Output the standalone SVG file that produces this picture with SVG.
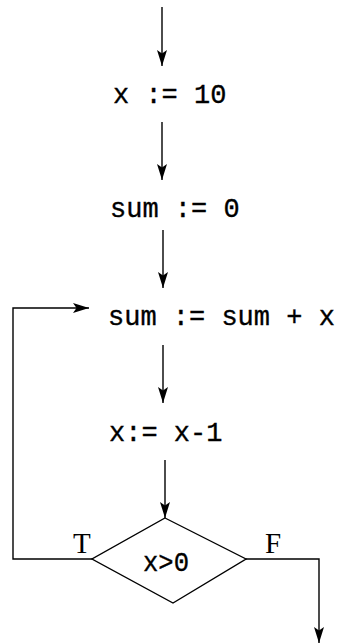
<svg xmlns="http://www.w3.org/2000/svg" width="341" height="643" viewBox="0 0 341 643">
<defs>
<style>
.code{font-family:"Liberation Mono","DejaVu Sans Mono",monospace;font-size:27px;fill:#000;stroke:#000;stroke-width:0.35}
.lbl{font-family:"Liberation Serif","DejaVu Serif",serif;font-size:29px;fill:#000}
.ln{stroke:#000;stroke-width:1.4;fill:none}
</style>
<marker id="ah" markerUnits="userSpaceOnUse" markerWidth="17" markerHeight="12" refX="16" refY="6" orient="auto">
<path d="M16,6 L0,1 L3.5,6 L0,11 Z" fill="#000"/>
</marker>
</defs>
<rect width="341" height="643" fill="#fff"/>
<g id="connectors">
<line class="ln" x1="162" y1="7" x2="162" y2="66" marker-end="url(#ah)"/>
<line class="ln" x1="162" y1="122" x2="162" y2="180" marker-end="url(#ah)"/>
<line class="ln" x1="163" y1="230" x2="163" y2="288" marker-end="url(#ah)"/>
<line class="ln" x1="163" y1="345" x2="163" y2="403" marker-end="url(#ah)"/>
<line class="ln" x1="165" y1="460" x2="165" y2="518" marker-end="url(#ah)"/>
<polyline class="ln" points="92,559 13,559 13,308 89,308" marker-end="url(#ah)"/>
<polyline class="ln" points="246,559 319,559 319,643" marker-end="url(#ah)"/>
<text class="lbl" x="73" y="553">T</text>
<text class="lbl" x="265" y="553">F</text>
</g>
<g id="n1"><text class="code" x="113" y="103">x := 10</text></g>
<g id="n2"><text class="code" x="110" y="217">sum := 0</text></g>
<g id="n3"><text class="code" x="108" y="325">sum := sum + x</text></g>
<g id="n4"><text class="code" x="109" y="441">x:= x-1</text></g>
<g id="n5">
<polygon class="ln" points="165,518 246,559 173,603 92,559"/>
<text class="code" x="143" y="571" textLength="46" lengthAdjust="spacingAndGlyphs">x&gt;0</text>
</g>
</svg>
